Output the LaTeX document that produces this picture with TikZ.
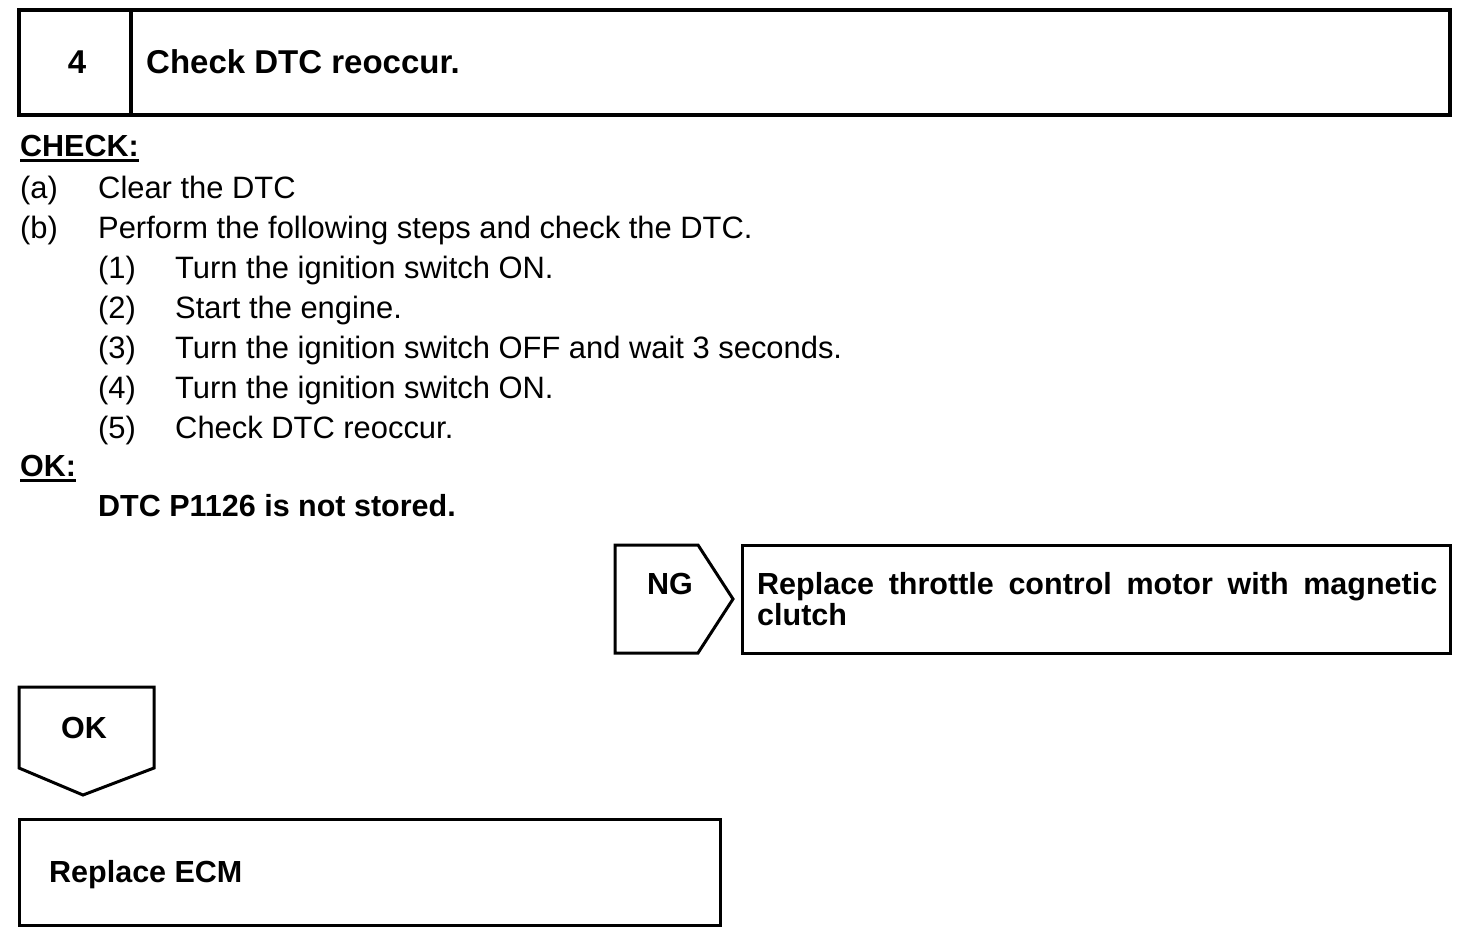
\documentclass[tikz,border=0pt]{standalone}
\usepackage{fontspec}
\setmainfont{Liberation Sans}
\newcommand{\corpo}{\fontsize{30.9}{31}\selectfont}
\newcommand{\corpob}{\fontsize{30.5}{31}\selectfont\bfseries}
\newcommand{\titolo}{\fontsize{33}{36}\selectfont\bfseries}
\tikzset{
    testo/.style={anchor=base west, inner sep=0pt, font=\corpo},
    grassetto/.style={testo, font=\corpob},
    riquadro/.style={line width=3pt, line join=miter},
    sottolinea/.style={line width=3pt}
}
\begin{document}
\begin{tikzpicture}[x=1pt, y=-1pt]
    \useasboundingbox (0,0) rectangle (1472,942);
        %riquadro titolo
        \draw[line width=4pt] (19,10) rectangle (1450,115);
        \draw[line width=4pt] (131,10)--(131,115);
        \node (num) at (77,74)[anchor=base, inner sep=0pt, font=\titolo]{4};
        \node (tit) at (146,74)[anchor=base west, inner sep=0pt, font=\titolo]{Check DTC reoccur.};
        %controllo
        \node (check) at (20,156)[grassetto]{CHECK:};
        \draw[sottolinea] ([yshift=-4.5pt]check.base west)--([yshift=-4.5pt]check.base east);
        \node (a) at (20,198)[testo]{(a)};
        \node (at) at (98,198)[testo]{Clear the DTC};
        \node (b) at (20,238)[testo]{(b)};
        \node (bt) at (98,238)[testo]{Perform the following steps and check the DTC.};
        %passi
        \node (p1) at (98,278)[testo]{(1)};
        \node (p1t) at (175,278)[testo]{Turn the ignition switch ON.};
        \node (p2) at (98,318)[testo]{(2)};
        \node (p2t) at (175,318)[testo]{Start the engine.};
        \node (p3) at (98,358)[testo]{(3)};
        \node (p3t) at (175,358)[testo]{Turn the ignition switch OFF and wait 3 seconds.};
        \node (p4) at (98,398)[testo]{(4)};
        \node (p4t) at (175,398)[testo]{Turn the ignition switch ON.};
        \node (p5) at (98,438)[testo]{(5)};
        \node (p5t) at (175,438)[testo]{Check DTC reoccur.};
        %esito
        \node (ok) at (20,476)[grassetto]{OK:};
        \draw[sottolinea] ([yshift=-4.5pt]ok.base west)--([yshift=-4.5pt]ok.base east);
        \node (okt) at (98,516)[grassetto]{DTC P1126 is not stored.};
        %freccia NG
        \draw[riquadro] (615,545)--(698,545)--(733,599)--(698,653)--(615,653)--cycle;
        \node (ng) at (670,594)[anchor=base, inner sep=0pt, font=\corpob]{NG};
        \draw[riquadro] (742,545) rectangle (1450,653);
        \node (ngt) at (757,572)[anchor=north west, inner sep=0pt, text width=680pt,
            align=justify, font=\corpob]{Replace throttle control motor with magnetic clutch};
        %freccia OK
        \draw[riquadro] (19,687)--(154,687)--(154,768)--(83,795)--(19,768)--cycle;
        \node (okf) at (84,738)[anchor=base, inner sep=0pt, font=\corpob]{OK};
        \draw[riquadro] (19,819) rectangle (720,925);
        \node (ecm) at (49,882)[grassetto]{Replace ECM};
\end{tikzpicture}
\end{document}
